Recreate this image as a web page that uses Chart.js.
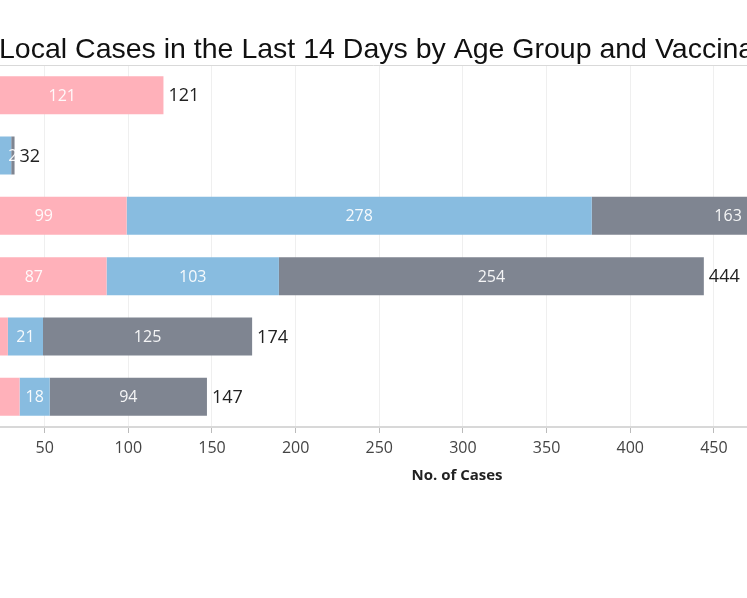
<!DOCTYPE html>
<html>
<head>
<meta charset="utf-8">
<script src="https://cdn.jsdelivr.net/npm/chart.js@4.4.1/dist/chart.umd.min.js"></script>
<style>
    html, body { margin: 0; padding: 0; background: #fff; overflow: hidden; }
    #wrap { position: relative; width: 747px; height: 598px; }
</style>
</head>
<body>
<div id="wrap"><canvas id="cases-chart" width="747" height="598"></canvas></div>
<script>
// Data (the original is cropped on the left and right)
const chartTitle = 'Local Cases in the Last 14 Days by Age Group and Vaccination Status';
const axisTitle = 'No. of Cases';
const ageGroups = ['0-11', '12-19', '20-39', '40-59', '60-69', '70 & above'];
const unvaccinated = [121, 0, 99, 87, 28, 35];
const partlyVaccinated = [0, 30, 278, 103, 21, 18];
const fullyVaccinated = [0, 2, 163, 254, 125, 94];
const xTickValues = [50, 100, 150, 200, 250, 300, 350, 400, 450];

const seriesColors = ['#ffb1ba', '#88bce0', '#7f8591'];
const numFont = '"Open Sans", "Noto Sans", sans-serif';

const labelPlugin = {
    id: 'segmentLabels',
    afterDatasetsDraw(chart) {
        const ctx = chart.ctx;
        const xScale = chart.scales.x;
        const sets = chart.data.datasets;
        ctx.save();
        ctx.textBaseline = 'middle';

        // values inside each segment
        ctx.font = '16px ' + numFont;
        ctx.textAlign = 'center';
        ctx.fillStyle = 'rgba(255,255,255,0.92)';
        sets.forEach((ds, di) => {
            const meta = chart.getDatasetMeta(di);
            meta.data.forEach((bar, i) => {
                const v = ds.data[i];
                if (!v) return;
                let start = 0;
                for (let k = 0; k < di; k++) start += sets[k].data[i];
                ctx.fillText(String(v), xScale.getPixelForValue(start + v / 2), bar.y + 1);
            });
        });

        // totals at the end of each stack
        ctx.font = '18px ' + numFont;
        ctx.textAlign = 'left';
        ctx.fillStyle = '#222';
        const meta0 = chart.getDatasetMeta(0);
        ageGroups.forEach((g, i) => {
            let total = 0;
            for (const ds of sets) total += ds.data[i];
            ctx.fillText(String(total), xScale.getPixelForValue(total) + 5, meta0.data[i].y + 1);
        });
        ctx.restore();
    },
    afterDraw(chart) {
        const ctx = chart.ctx;
        const area = chart.chartArea;
        ctx.save();
        // title, running off the right edge like the reference
        ctx.font = '28.5px "Liberation Sans", Arial, sans-serif';
        ctx.fillStyle = '#111';
        ctx.textAlign = 'left';
        ctx.textBaseline = 'alphabetic';
        ctx.fillText(chartTitle, -1, 58);

        ctx.strokeStyle = '#d9d9d9';
        ctx.lineWidth = 1;
        ctx.beginPath();
        ctx.moveTo(0, area.top + 0.5);
        ctx.lineTo(chart.width, area.top + 0.5);
        ctx.stroke();

        // x axis title
        ctx.font = 'bold 15px ' + numFont;
        ctx.fillStyle = '#222';
        ctx.textAlign = 'center';
        ctx.textBaseline = 'middle';
        ctx.fillText(axisTitle, 457, 476);
        ctx.restore();
    }
};

new Chart(document.getElementById('cases-chart'), {
    type: 'bar',
    data: {
        labels: ageGroups,
        datasets: [
            { label: 'Unvaccinated', data: unvaccinated, backgroundColor: seriesColors[0] },
            { label: 'Partially Vaccinated', data: partlyVaccinated, backgroundColor: seriesColors[1] },
            { label: 'Fully Vaccinated', data: fullyVaccinated, backgroundColor: seriesColors[2] }
        ]
    },
    options: {
        indexAxis: 'y',
        responsive: false,
        animation: false,
        barPercentage: 0.63,
        categoryPercentage: 1,
        layout: { padding: { top: 65, left: 0, right: 0, bottom: 0 } },
        plugins: {
            legend: { display: false },
            tooltip: { enabled: false },
            title: { display: false }
        },
        scales: {
            x: {
                stacked: true,
                min: 23.3,
                max: 469.8,
                afterBuildTicks: (scale) => {
                    scale.ticks = xTickValues.map(v => ({ value: v }));
                },
                afterFit: (scale) => {
                    scale.height = 171;
                },
                ticks: {
                    includeBounds: false,
                    color: '#444',
                    font: { family: numFont, size: 16 },
                    padding: 6,
                    maxRotation: 0
                },
                grid: {
                    color: '#efefef',
                    tickColor: '#bbb',
                    tickLength: 6
                },
                border: { color: '#d8d8d8', width: 2 }
            },
            y: {
                stacked: true,
                display: false,
                grid: { display: false }
            }
        }
    },
    plugins: [labelPlugin]
});
</script>
</body>
</html>
